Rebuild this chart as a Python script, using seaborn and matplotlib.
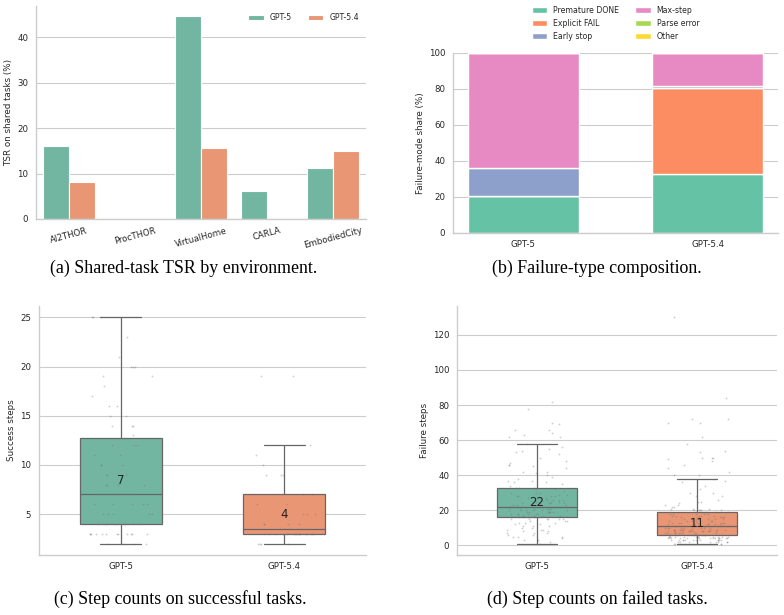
import numpy as np
import pandas as pd
import matplotlib.pyplot as plt
import seaborn as sns

# (a) shared-task TSR by environment
envs = ["AI2THOR", "ProcTHOR", "VirtualHome", "CARLA", "EmbodiedCity"]
models = ["GPT-5", "GPT-5.4"]
tsr_gpt5 = [16.0, 0.0, 44.7, 6.1, 11.2]
tsr_gpt54 = [8.2, 0.0, 15.7, 0.0, 15.0]

# (b) failure-type composition (%)
fail_types = ["Premature DONE", "Explicit FAIL", "Early stop", "Max-step", "Parse error", "Other"]
share_gpt5 = [20.4, 0.0, 15.7, 63.9, 0.0, 0.0]
share_gpt54 = [32.6, 47.9, 1.4, 18.1, 0.0, 0.0]

# (c) step counts on successful tasks
succ_gpt5 = [2, 2, 2, 2, 2,
             3, 3, 3, 3, 3, 3, 3, 3, 3, 3, 3, 3,
             4, 4, 4, 4, 4, 4, 4, 4, 4,
             5, 5, 5, 5, 5, 6, 6, 6, 6, 6,
             7, 7, 7, 7, 7, 7, 8, 8, 8, 8, 9, 9, 9, 9,
             10, 10, 10, 11, 11, 12, 12, 12,
             13, 14, 14, 14, 15, 15, 16, 16, 17, 18, 19, 19, 20, 20, 20, 21, 23, 25, 25, 25]
succ_gpt54 = [2, 2, 2, 2,
              3, 3, 3, 3, 3, 3, 3, 3, 3, 3, 3, 3, 3, 3, 3, 3,
              4, 4, 4, 4, 5, 5, 5, 6, 6, 7, 7, 7, 9, 9, 9,
              10, 11, 12, 19, 19]

# (d) step counts on failed tasks
fail_gpt5 = [1, 2, 3, 3, 4, 5, 5, 5, 6, 6, 7, 7, 7, 8, 8, 9, 9, 9, 10, 10, 11, 11, 11,
             12, 12, 13, 13, 13, 14, 14, 14, 15, 15, 15, 15, 15, 15,
             16, 16, 16, 16, 16, 16, 16, 16, 17, 17, 17, 17, 17, 18, 18, 18, 18, 18, 18,
             19, 19, 19, 19, 19, 19, 19, 20, 20, 20, 20, 20, 20, 21, 21, 21, 21, 21,
             22, 22, 22, 22, 22, 22, 23, 23, 23, 23, 24, 24, 24, 24, 24, 25, 25, 25,
             26, 26, 26, 26, 27, 27, 27, 28, 28, 28, 28, 29, 29, 30, 30, 30, 31, 32, 32,
             33, 33, 33, 34, 35, 36, 36, 37, 37, 38, 39, 40, 41, 42, 42, 44, 45, 46, 46,
             47, 48, 50, 52, 53, 54, 55, 56, 58, 62, 62, 63, 64, 66, 66, 69, 70, 78, 82]
fail_gpt54 = [1, 1, 1, 1, 1, 1, 2, 2, 2, 2, 2, 2, 2, 2,
              3, 3, 3, 3, 3, 3, 3, 3, 3, 3, 3, 3, 4, 4, 4, 4, 4, 4, 4, 4, 4, 4, 4, 4,
              5, 5, 5, 5, 5, 5, 5, 5, 5, 5, 5, 5,
              6, 6, 6, 6, 6, 6, 6, 6, 6, 6, 6, 6, 7, 7, 7, 7, 7, 7, 7, 7, 7, 7,
              8, 8, 8, 8, 8, 8, 8, 8, 8, 8, 9, 9, 9, 9, 9, 9, 9, 9, 9,
              10, 10, 10, 10, 10, 10, 10, 10, 10,
              11, 11, 11, 11, 11, 11, 11, 11, 11, 12, 12, 12, 12, 12, 12, 12,
              13, 13, 13, 13, 13, 13, 13, 14, 14, 14, 14, 14, 14, 15, 15, 15, 15, 15, 15,
              16, 16, 16, 16, 16, 17, 17, 17, 17, 17, 18, 18, 18, 18, 18,
              19, 19, 19, 19, 19, 19, 20, 20, 20, 20, 20, 21, 21, 21, 22, 22, 23, 23,
              24, 25, 25, 26, 28, 28, 30, 30, 32, 34, 36, 37, 38, 40, 40, 42, 44, 46,
              48, 49, 50, 50, 50, 53, 54, 58, 62, 70, 70, 72, 72, 84, 130]

sns.set_theme(style="whitegrid", context="paper")
plt.rcParams["font.family"] = ["DejaVu Sans"]
plt.rcParams.update({"axes.labelsize": 6.3, "xtick.labelsize": 6.2, "ytick.labelsize": 6.2,
                     "legend.fontsize": 5.6,
                     "xtick.major.size": 0, "ytick.major.size": 0,
                     "xtick.major.pad": 5.0, "ytick.major.pad": 5.5,
                     "axes.labelpad": 3.0})

W, H = 784, 615
fig = plt.figure(figsize=(W / 100, H / 100), dpi=100)


def add_ax(left, top, right, bottom):
    return fig.add_axes([left / W, 1 - bottom / H, (right - left) / W, (bottom - top) / H])


ax_a = add_ax(36, 6, 366, 219)
ax_b = add_ax(453, 53, 778, 233)
ax_c = add_ax(39, 306, 366, 555)
ax_d = add_ax(457, 306, 777, 555)

# (a)
df_tsr = pd.DataFrame({"env": envs * 2,
                       "model": [models[0]] * len(envs) + [models[1]] * len(envs),
                       "tsr": tsr_gpt5 + tsr_gpt54})
sns.barplot(data=df_tsr, x="env", y="tsr", hue="model", palette="Set2", ax=ax_a)
ax_a.set_xlabel("")
ax_a.set_ylabel("TSR on shared tasks (%)")
ax_a.tick_params(axis="x", rotation=15)
ax_a.legend(loc="upper right", ncol=2, frameon=False, title=None)

# (b)
colors = sns.color_palette("Set2", len(fail_types))
bottom = np.zeros(len(models))
for k, name in enumerate(fail_types):
    vals = np.array([share_gpt5[k], share_gpt54[k]])
    ax_b.bar(models, vals, bottom=bottom, width=0.6, color=colors[k], label=name,
             edgecolor="white", linewidth=1)
    bottom += vals
ax_b.set_ylim(0, 100)
ax_b.set_ylabel("Failure-mode share (%)")
ax_b.xaxis.grid(False)
ax_b.legend(loc="lower center", bbox_to_anchor=(0.5, 1.03), ncol=2, frameon=False)


# (c), (d)
def step_panel(ax, a, b, ylabel):
    df = pd.DataFrame({"model": [models[0]] * len(a) + [models[1]] * len(b), "steps": a + b})
    sns.boxplot(data=df, x="model", y="steps", hue="model", palette="Set2", width=0.5,
                showfliers=False, legend=False, linecolor="0.4", linewidth=0.9, ax=ax)
    np.random.seed(3)
    sns.stripplot(data=df, x="model", y="steps", color="0.45", size=1.3, alpha=0.35,
                  jitter=0.2, ax=ax)
    for i, vals in enumerate([a, b]):
        q1, med, q3 = np.percentile(vals, [25, 50, 75])
        ax.text(i, (q1 + q3) / 2, f"{med:.0f}", ha="center", va="center",
                fontsize=8.5, color="#222222")
    ax.set_xlabel("")
    ax.set_ylabel(ylabel)


step_panel(ax_c, succ_gpt5, succ_gpt54, "Success steps")
step_panel(ax_d, fail_gpt5, fail_gpt54, "Failure steps")

for ax in [ax_a, ax_b, ax_c, ax_d]:
    sns.despine(ax=ax)

cap = dict(family="Liberation Serif", fontsize=12.9, ha="center", va="center", color="black")
fig.text(184 / W, 1 - 268 / H, "(a) Shared-task TSR by environment.", **cap)
fig.text(597 / W, 1 - 268 / H, "(b) Failure-type composition.", **cap)
fig.text(180 / W, 1 - 599 / H, "(c) Step counts on successful tasks.", **cap)
fig.text(597 / W, 1 - 599 / H, "(d) Step counts on failed tasks.", **cap)

fig.savefig("out.png", dpi=100)
